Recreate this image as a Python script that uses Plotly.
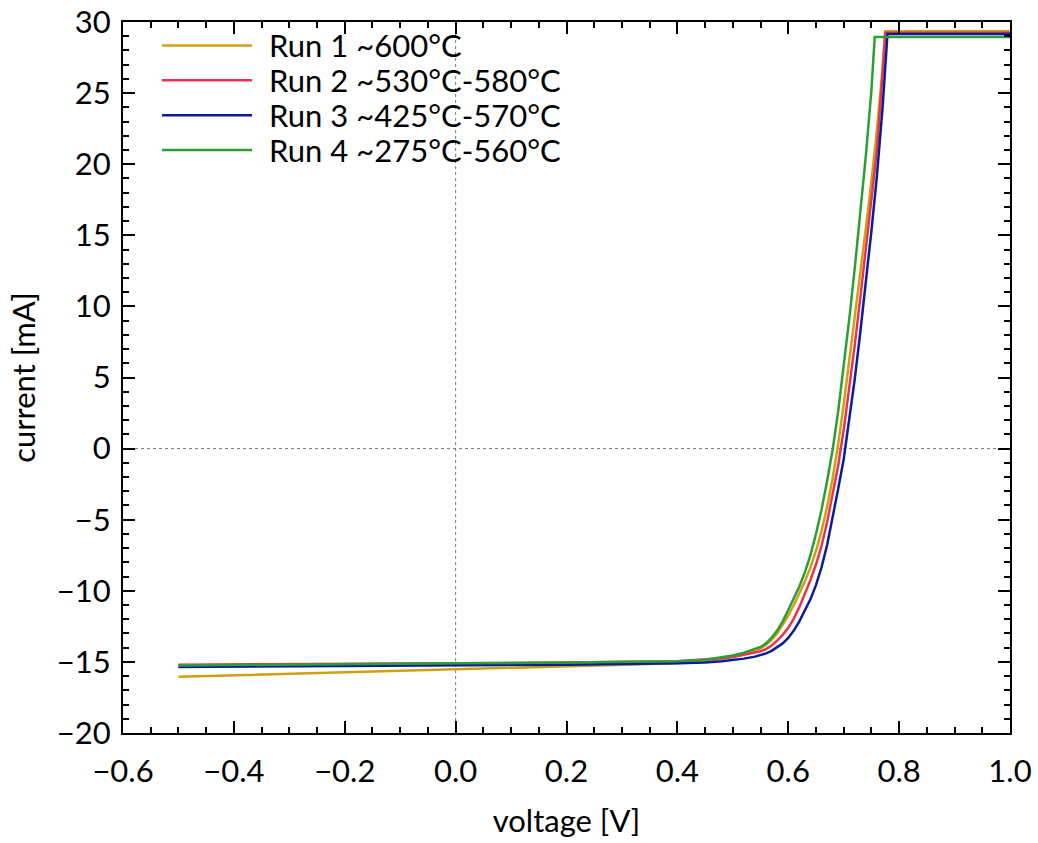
import plotly.graph_objects as go

# ---------------- data ----------------
run_names = ["Run 1 ~600°C", "Run 2 ~530°C-580°C", "Run 3 ~425°C-570°C", "Run 4 ~275°C-560°C"]
run_colors = ["#cfa010", "#e8334f", "#0a1c9c", "#2b9f35"]

v_run1 = [-0.5, -0.3, -0.1, 0.0, 0.1, 0.2, 0.3, 0.4, 0.45, 0.48, 0.50, 0.52, 0.54, 0.55, 0.56, 0.57, 0.58,
          0.59, 0.60, 0.61, 0.62, 0.63, 0.64, 0.65, 0.66, 0.67, 0.68, 0.69, 0.70, 0.71, 0.72, 0.73,
          0.74, 0.75, 0.76, 0.77, 0.774, 0.775, 1.0]
i_run1 = [-16.05, -15.85, -15.65, -15.55, -15.45, -15.35, -15.25, -15.1, -14.95, -14.8, -14.65, -14.45, -14.2,
          -14.05, -13.8, -13.45, -13.0, -12.4, -11.75, -11.0, -10.2, -9.35, -8.35, -7.2, -5.8, -4.1,
          -2.1, 0.3, 3.1, 6.1, 9.2, 12.4, 15.5, 18.8, 22.4, 26.7, 29.35, 29.35, 29.35]

v_run2 = [-0.5, -0.25, 0.0, 0.2, 0.4, 0.45, 0.48, 0.50, 0.52, 0.54, 0.55, 0.56, 0.57, 0.58, 0.59, 0.60,
          0.61, 0.62, 0.63, 0.64, 0.65, 0.66, 0.67, 0.68, 0.69, 0.70, 0.71, 0.72, 0.73, 0.74, 0.75,
          0.76, 0.77, 0.774, 0.775, 1.0]
i_run2 = [-15.2, -15.15, -15.1, -15.05, -14.95, -14.85, -14.75, -14.65, -14.5, -14.35, -14.25, -14.1, -13.85,
          -13.5, -13.1, -12.6, -11.95, -11.15, -10.25, -9.25, -8.15, -6.85, -5.2, -3.3, -1.2, 1.3, 4.2,
          7.3, 10.6, 14.0, 17.4, 21.0, 26.3, 29.25, 29.25, 29.25]

v_run3 = [-0.5, -0.25, 0.0, 0.2, 0.4, 0.45, 0.48, 0.50, 0.52, 0.54, 0.55, 0.56, 0.57, 0.58, 0.59, 0.60,
          0.61, 0.62, 0.63, 0.64, 0.65, 0.66, 0.67, 0.68, 0.69, 0.70, 0.71, 0.72, 0.73, 0.74, 0.75,
          0.76, 0.77, 0.779, 0.780, 1.0]
i_run3 = [-15.35, -15.3, -15.25, -15.2, -15.1, -15.05, -14.95, -14.87, -14.77, -14.63, -14.53, -14.4, -14.22,
          -13.98, -13.7, -13.32, -12.8, -12.15, -11.42, -10.6, -9.6, -8.35, -6.8, -4.9, -2.85, -0.75, 1.9,
          4.9, 8.2, 11.7, 15.3, 19.2, 23.9, 29.15, 29.15, 29.15]

v_run4 = [-0.5, -0.25, 0.0, 0.2, 0.4, 0.45, 0.48, 0.50, 0.52, 0.54, 0.55, 0.56, 0.57, 0.58, 0.59, 0.60,
          0.61, 0.62, 0.63, 0.64, 0.65, 0.66, 0.67, 0.68, 0.69, 0.70, 0.71, 0.72, 0.73, 0.74, 0.75,
          0.755, 0.756, 1.0]
i_run4 = [-15.25, -15.2, -15.1, -15.05, -14.95, -14.85, -14.7, -14.55, -14.35, -14.1, -13.95, -13.7, -13.3,
          -12.8, -12.15, -11.35, -10.55, -9.7, -8.7, -7.5, -6.0, -4.3, -2.3, -0.1, 2.6, 5.7, 9.1,
          12.7, 16.5, 20.6, 25.2, 28.95, 28.95, 28.95]

voltages = [v_run1, v_run2, v_run3, v_run4]
currents = [i_run1, i_run2, i_run3, i_run4]

x_ticks = [-0.6, -0.4, -0.2, 0.0, 0.2, 0.4, 0.6, 0.8, 1.0]
y_ticks = [-20, -15, -10, -5, 0, 5, 10, 15, 20, 25, 30]

FONT = "Lato"
FS = 31

fig = go.Figure()
for name, color, v, i in zip(run_names, run_colors, voltages, currents):
    fig.add_trace(go.Scatter(x=v, y=i, mode="lines", name=name, showlegend=False,
                             line=dict(color=color, width=2.5)))

# dotted reference lines at zero
fig.add_shape(type="line", xref="x", yref="paper", x0=0, x1=0, y0=0, y1=1,
              line=dict(color="#777777", width=1, dash="dot"), layer="below")
fig.add_shape(type="line", xref="paper", yref="y", x0=0, x1=1, y0=0, y1=0,
              line=dict(color="#777777", width=1, dash="dot"), layer="below")

# legend (key lines + text, top-left inside the plot)
legend_y = [0.967, 0.918, 0.869, 0.820]
for name, color, ly in zip(run_names, run_colors, legend_y):
    fig.add_shape(type="line", xref="paper", yref="paper", x0=0.044, x1=0.1455, y0=ly, y1=ly,
                  line=dict(color=color, width=2.5))
    fig.add_annotation(xref="paper", yref="paper", x=0.163, y=ly, text=name, showarrow=False,
                       xanchor="left", yanchor="middle", height=32, borderpad=0,
                       font=dict(family=FONT, size=FS, color="black"))

axis_common = dict(
    showline=True, linecolor="black", linewidth=2, mirror="ticks",
    ticks="inside", ticklen=12, tickwidth=1.5, tickcolor="black",
    showgrid=False, zeroline=False, automargin=False,
    tickfont=dict(family=FONT, size=FS, color="black"),
)

fig.update_xaxes(range=[-0.6, 1.0], tickvals=x_ticks, tickformat=".1f", ticklabelstandoff=10,
                 title=dict(text="voltage [V]", font=dict(family=FONT, size=FS, color="black"), standoff=22),
                 minor=dict(dtick=0.05, tick0=0, ticks="inside", ticklen=6, tickwidth=1.5, tickcolor="black"),
                 **axis_common)
fig.update_yaxes(range=[-20, 30], tickvals=y_ticks, ticklabelstandoff=4,
                 title=dict(text="current [mA]", font=dict(family=FONT, size=FS, color="black"), standoff=12),
                 minor=dict(dtick=1, tick0=0, ticks="inside", ticklen=6, tickwidth=1.5, tickcolor="black"),
                 **axis_common)

fig.update_layout(
    width=1038, height=843,
    margin=dict(l=123, r=28, t=22, b=110, autoexpand=False),
    plot_bgcolor="white", paper_bgcolor="white",
    font=dict(family=FONT, color="black"),
    showlegend=False,
)

fig.write_html("out.html")
